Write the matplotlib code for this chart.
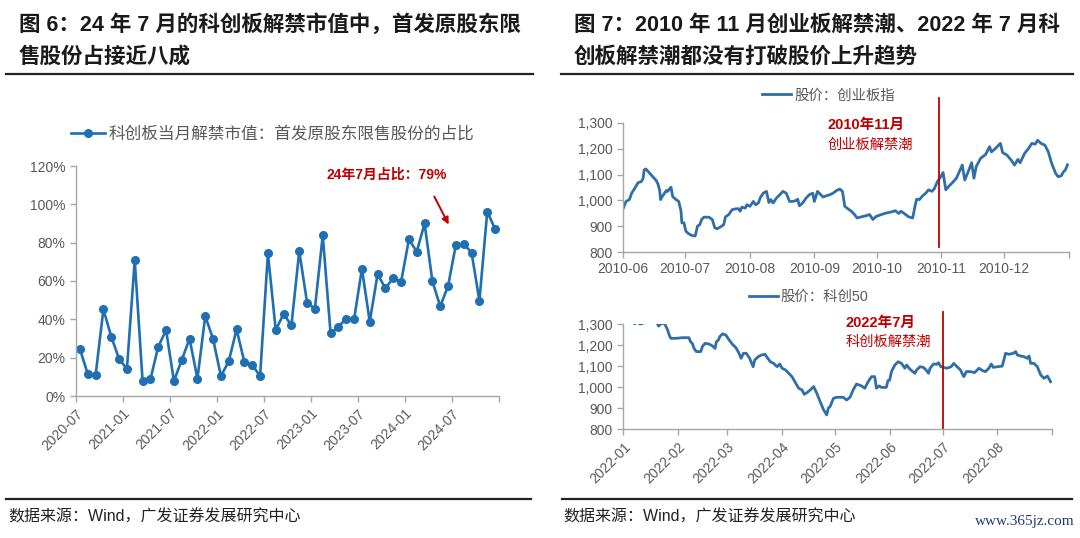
import numpy as np
import pandas as pd
import matplotlib
matplotlib.use("Agg")
import matplotlib.pyplot as plt
from matplotlib.lines import Line2D
from matplotlib.ticker import FuncFormatter

plt.rcParams["font.family"] = ["Liberation Sans", "Noto Sans CJK SC"]

# ---- data: left panel, monthly share of unlocked value (IPO original holders)
share_start = "2020-07"
share_pct = [24.5, 11.5, 10.8, 45.2, 31.0, 19.3, 14.1, 70.8, 7.8, 8.7,
             25.7, 34.4, 7.8, 18.8, 29.9, 9.0, 41.7, 29.7, 10.4, 18.1,
             34.8, 17.6, 16.2, 10.4, 74.4, 34.4, 42.8, 36.9, 75.5, 48.7,
             45.6, 83.8, 32.7, 36.2, 40.3, 40.0, 66.4, 38.8, 63.5, 56.2,
             61.6, 59.5, 81.7, 75.3, 90.0, 59.8, 46.8, 57.4, 79.0, 79.3,
             74.8, 49.7, 96.2, 87.1]

# ---- data: ChiNext index 2010 (days after 2010-06-01, close)
cyb_start = "2010-06-01"
cyb_day = [0.3, 1.6, 3.2, 4.3, 5.8, 7.4, 9.0, 9.8, 10.3, 11.1,
           13.0, 14.5, 16.1, 16.9, 17.7, 18.2, 18.8, 20.1, 20.9, 21.6,
           22.4, 23.2, 24.0, 25.3, 26.9, 28.0, 28.4, 29.4, 30.3, 31.6,
           33.2, 34.8, 35.9, 37.0, 37.9, 39.0, 41.4, 43.0, 44.2, 45.3,
           46.9, 48.5, 49.3, 50.9, 52.5, 54.0, 55.6, 56.4, 57.2, 58.8,
           59.6, 61.1, 62.7, 63.8, 65.1, 66.2, 67.5, 69.0, 70.2, 71.1,
           72.2, 73.8, 75.4, 76.9, 78.5, 80.1, 81.7, 83.3, 84.0, 84.8,
           86.4, 88.0, 89.6, 91.2, 92.0, 93.5,
           96.2, 97.8, 99.4, 101.0, 102.6, 104.2, 105.5, 106.6, 108.2, 109.8,
           111.3, 112.5, 114.5, 116.9, 118.5, 120.1, 121.7, 124.1, 126.5, 128.8,
           130.9, 132.5, 133.6, 135.2, 137.3, 139.2, 140.3, 141.1, 142.4, 144.0,
           145.5, 146.8, 148.4, 149.5, 151.1, 152.7, 153.8, 155.1, 156.7, 158.3,
           160.2, 161.8, 163.0, 164.2, 165.7, 167.5, 168.6, 169.7, 171.8, 174.2,
           176.1, 177.0, 178.9, 181.3, 182.4, 184.4, 186.5, 188.1, 189.7, 190.8,
           192.9, 194.8, 196.4, 198.0, 199.2, 200.8, 202.7, 204.3, 205.9, 207.8,
           209.0, 210.5, 211.5, 212.5, 213.5]
cyb_close = [970, 996, 1003, 1028, 1047, 1069, 1073, 1086, 1118, 1122,
             1105, 1092, 1077, 1064, 1041, 1003, 1013, 1028, 1038, 1035,
             1044, 1051, 1015, 1005, 996, 958, 913, 913, 881, 871,
             864, 862, 900, 906, 926, 935, 935, 926, 894, 890,
             897, 906, 936, 945, 964, 967, 968, 958, 974, 970,
             983, 977, 996, 983, 990, 1013, 1028, 1035, 992, 1003,
             990, 1009, 1022, 1035, 1028, 996, 996, 1000, 1005, 979,
             990, 1009, 1022, 1028, 996, 1035,
             1013, 1018, 1022, 1028, 1038, 1044, 1035, 977, 967, 958,
             945, 932, 936, 941, 945, 926, 938, 945, 951, 955,
             960, 949, 958, 949, 936, 932, 977, 1005, 1003, 1018,
             1028, 1041, 1035, 1044, 1073, 1092, 1108, 1041, 1056, 1069,
             1086, 1115, 1137, 1079, 1108, 1146, 1086, 1131, 1163, 1178,
             1208, 1188, 1201, 1221, 1185, 1176, 1156, 1137, 1159, 1146,
             1182, 1201, 1221, 1218, 1233, 1221, 1214, 1188, 1144, 1105,
             1092, 1095, 1110, 1118, 1138]
cyb_event = "2010-10-31"

# ---- data: STAR 50 index 2022 (days after 2022-01-01, close)
kc_start = "2022-01-01"
kc_day = [0.0, 2.0, 4.0, 6.5, 8.4, 9.3, 10.8, 13.0, 16.7, 19.5,
          20.0, 21.3, 23.2, 24.1, 25.1, 26.0, 26.9, 29.7, 33.5, 37.2,
          38.1, 39.1, 40.1, 41.4, 43.9, 44.8, 46.3, 48.6, 50.5, 52.0,
          52.8, 53.9, 54.7, 56.2, 58.1, 60.0, 61.9, 63.8, 65.4, 66.8,
          68.1, 69.7, 71.6, 73.6, 74.5, 76.5, 78.4, 80.3, 81.7, 83.3,
          85.2, 87.2, 88.7, 90.0, 91.9, 93.8, 95.6, 97.5, 99.4, 101.3,
          102.6, 104.1, 106.0, 107.9, 109.7, 111.6, 113.4, 115.3, 116.2, 117.2,
          119.1, 120.9, 124.7, 126.6, 128.5, 130.3, 132.2, 135.0, 136.9, 138.8,
          140.7, 142.5, 143.5, 145.0, 146.3, 149.1, 150.0, 151.0, 152.0, 153.9,
          155.8, 157.7, 159.6, 160.6, 162.5, 165.3, 166.3, 168.2, 170.1, 171.6,
          173.0, 173.9, 175.8, 177.7, 178.7, 180.0, 181.6, 183.5, 185.8, 187.3,
          189.2, 191.1, 193.0, 194.5, 196.8, 199.1, 201.6, 203.5, 205.3, 207.2,
          208.6, 209.7, 212.0, 214.8, 216.7, 218.6, 221.1, 222.4, 223.3, 225.2,
          227.1, 229.0, 230.0, 230.9, 232.8, 234.7, 236.6, 238.5, 240.4, 242.2]
kc_close = [1390, 1370, 1340, 1301, 1312, 1300, 1302, 1318, 1325, 1300,
            1290, 1301, 1303, 1290, 1272, 1248, 1232, 1232, 1235, 1235,
            1216, 1208, 1184, 1169, 1169, 1192, 1208, 1205, 1196, 1184,
            1216, 1224, 1240, 1253, 1248, 1224, 1203, 1188, 1164, 1137,
            1161, 1161, 1137, 1097, 1129, 1145, 1153, 1156, 1140, 1121,
            1113, 1097, 1110, 1090, 1082, 1066, 1050, 1022, 995, 987,
            966, 974, 987, 1003, 971, 931, 895, 868, 900, 908,
            947, 952, 952, 939, 952, 987, 1015, 1006, 995, 1026,
            1050, 1050, 995, 1006, 999, 999, 1031, 1034, 1074, 1105,
            1121, 1113, 1090, 1105, 1085, 1066, 1082, 1097, 1094, 1082,
            1066, 1090, 1110, 1109, 1116, 1097, 1094, 1090, 1097, 1113,
            1097, 1082, 1050, 1074, 1074, 1069, 1090, 1079, 1074, 1090,
            1110, 1094, 1097, 1100, 1161, 1156, 1161, 1169, 1153, 1148,
            1145, 1137, 1148, 1113, 1113, 1097, 1058, 1042, 1053, 1026]
kc_event = "2022-07-01"

BLUE_L = "#1f6fb2"
BLUE_R = "#2f6ea8"
RED = "#c00000"
GRAY = "#595959"
SPINE = "#a6a6a6"

W, H = 1080, 538


def fx(x):
    return x / W


def fy(y):
    return 1 - y / H


def style_axis(ax):
    for s in ("top", "right"):
        ax.spines[s].set_visible(False)
    for s in ("left", "bottom"):
        ax.spines[s].set_color(SPINE)
        ax.spines[s].set_linewidth(1.0)
    ax.tick_params(direction="out", length=4, width=1.0, color=SPINE,
                   labelsize=10, labelcolor=GRAY)


fig = plt.figure(figsize=(W / 100, H / 100), dpi=100)

# ---- titles, rules and sources
title_kw = dict(fontsize=15.5, fontweight="bold", color="#1a1a1a", va="center")
fig.text(fx(19), fy(25), "图 6：24 年 7 月的科创板解禁市值中，首发原股东限", **title_kw)
fig.text(fx(19), fy(57), "售股份占接近八成", **title_kw)
fig.text(fx(574), fy(25), "图 7：2010 年 11 月创业板解禁潮、2022 年 7 月科", **title_kw)
fig.text(fx(574), fy(57), "创板解禁潮都没有打破股价上升趋势", **title_kw)
for x0, x1 in [(6, 533), (561, 1073)]:
    fig.add_artist(Line2D([fx(x0), fx(x1)], [fy(74), fy(74)], color="#222222", lw=1.6))
for x0, x1 in [(6, 531), (562, 1072)]:
    fig.add_artist(Line2D([fx(x0), fx(x1)], [fy(499), fy(499)], color="#222222", lw=1.6))
src_kw = dict(fontsize=11.5, color="#222222", va="center")
fig.text(fx(8), fy(517), "数据来源：Wind，广发证券发展研究中心", **src_kw)
fig.text(fx(563), fy(517), "数据来源：Wind，广发证券发展研究中心", **src_kw)
fig.text(fx(1075), fy(522), "www.365jz.com", fontsize=11, color="#1f3a7a",
         family="Liberation Serif", ha="right", va="center")

# ---- left panel
months = pd.period_range(share_start, periods=len(share_pct), freq="M").strftime("%Y-%m")
ax1 = fig.add_axes([fx(76), fy(396), (499 - 76) / W, (396 - 166) / H])
xpos = np.arange(len(share_pct)) + 0.5
ax1.plot(xpos, share_pct, color=BLUE_L, lw=1.9, marker="o", ms=5.5,
         label="科创板当月解禁市值：首发原股东限售股份的占比")
ax1.set_xlim(0, len(share_pct))
ax1.set_ylim(0, 120)
ax1.set_yticks(range(0, 121, 20))
ax1.yaxis.set_major_formatter(FuncFormatter(lambda v, _: f"{v:.0f}%"))
ticks = list(range(0, len(share_pct) + 1, 6))
ax1.set_xticks(ticks)
ax1.set_xticklabels([months[i] if i < len(months) - 5 else "" for i in ticks],
                    rotation=45, ha="right", rotation_mode="anchor")
style_axis(ax1)
ax1.legend(loc="center", bbox_to_anchor=(0.465, 1.139), frameon=False,
           fontsize=12, labelcolor=GRAY, handlelength=2.0, handletextpad=0.2)
ax1.text(0.593, 0.961, "24年7月占比：79%", transform=ax1.transAxes, color=RED,
         fontsize=10, fontweight="bold", va="center", ha="left")
ax1.annotate("", xy=(0.884, 0.735), xytext=(0.844, 0.878),
             xycoords="axes fraction", textcoords="axes fraction",
             arrowprops=dict(arrowstyle="-|>", color=RED, lw=1.4, mutation_scale=10))

# ---- top right panel
cyb_base = pd.Timestamp(cyb_start)
cyb_dates = cyb_base + pd.to_timedelta(cyb_day, unit="D")
ax2 = fig.add_axes([fx(622.7), fy(252), (1068.5 - 622.7) / W, (252 - 123) / H])
ax2.plot(cyb_dates, cyb_close, color=BLUE_R, lw=2.0, label="股价：创业板指")
cyb_ticks = pd.date_range(cyb_start, "2011-01-01", freq="MS")
ax2.set_xlim(cyb_ticks[0], cyb_ticks[-1])
ax2.set_ylim(800, 1300)
ax2.set_xticks(cyb_ticks)
ax2.set_xticklabels([d.strftime("%Y-%m") for d in cyb_ticks[:-1]] + [""])
ax2.set_yticks(range(800, 1301, 100))
ax2.yaxis.set_major_formatter(FuncFormatter(lambda v, _: f"{v:,.0f}"))
style_axis(ax2)
ax2.axvline(pd.Timestamp(cyb_event), ymin=0.04, ymax=1.19, clip_on=False, color=RED, lw=1.3)
ax2.text(0.4605, 0.984, "2010年11月", transform=ax2.transAxes, color=RED,
         fontsize=10.5, fontweight="bold", va="center")
ax2.text(0.4605, 0.829, "创业板解禁潮", transform=ax2.transAxes, color=RED,
         fontsize=10.3, va="center")
ax2.legend(loc="center", bbox_to_anchor=(0.462, 1.213), frameon=False,
           fontsize=10.4, labelcolor=GRAY, handlelength=2.0, handletextpad=0.2)

# ---- bottom right panel
kc_base = pd.Timestamp(kc_start)
kc_dates = kc_base + pd.to_timedelta(kc_day, unit="D")
ax3 = fig.add_axes([fx(623.3), fy(429.3), (1052 - 623.3) / W, (429.3 - 324) / H])
ax3.plot(kc_dates, kc_close, color=BLUE_R, lw=2.0, label="股价：科创50")
kc_ticks = pd.date_range(kc_start, "2022-09-01", freq="MS")
ax3.set_xlim(kc_ticks[0], kc_ticks[-1])
ax3.set_ylim(800, 1300)
ax3.set_xticks(kc_ticks)
ax3.set_xticklabels([d.strftime("%Y-%m") for d in kc_ticks[:-1]] + [""],
                    rotation=45, ha="right", rotation_mode="anchor")
ax3.set_yticks(range(800, 1301, 100))
ax3.yaxis.set_major_formatter(FuncFormatter(lambda v, _: f"{v:,.0f}"))
style_axis(ax3)
ax3.axvline(pd.Timestamp(kc_event), ymin=0.0, ymax=1.11, clip_on=False, color=RED, lw=1.3)
ax3.text(0.5175, 1.01, "2022年7月", transform=ax3.transAxes, color=RED,
         fontsize=10.5, fontweight="bold", va="center")
ax3.text(0.5175, 0.83, "科创板解禁潮", transform=ax3.transAxes, color=RED,
         fontsize=10.3, va="center")
ax3.legend(loc="center", bbox_to_anchor=(0.433, 1.256), frameon=False,
           fontsize=10.4, labelcolor=GRAY, handlelength=2.0, handletextpad=0.2)

fig.savefig("out.png", dpi=100)
